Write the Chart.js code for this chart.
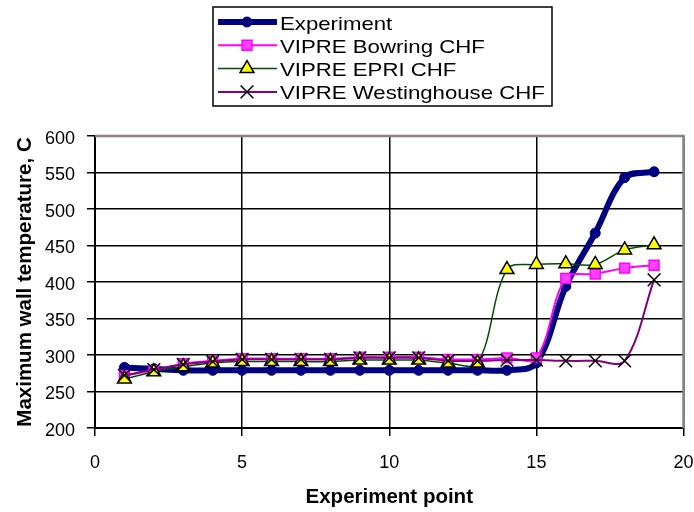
<!DOCTYPE html>
<html>
<head>
<meta charset="utf-8">
<script src="https://cdn.jsdelivr.net/npm/chart.js@4/dist/chart.umd.min.js"></script>
<style>
  html, body { margin: 0; padding: 0; background: #ffffff; }
  #wrap { width: 694px; height: 512px; }
</style>
</head>
<body>
<div id="wrap"><canvas id="c" width="694" height="512"></canvas></div>
<script>
// Experiment points (x) and maximum wall temperature values (C)
const points = [1, 2, 3, 4, 5, 6, 7, 8, 9, 10, 11, 12, 13, 14, 15, 16, 17, 18, 19];
const experiment   = [283, 281, 279, 279, 279, 279, 279, 279, 279, 279, 279, 279, 279, 279, 289, 394, 467, 543, 551];
const bowring      = [272, 279, 288, 292, 295, 295, 295, 295, 297, 297, 297, 294, 294, 296, 296, 405, 411, 419, 423];
const epri         = [267, 277, 284, 289, 291, 291, 291, 291, 293, 293, 293, 289, 289, 417, 424, 425, 424, 444, 451];
const westinghouse = [272, 280, 287, 291, 294, 294, 294, 294, 296, 296, 296, 292, 292, 293, 293, 292, 292, 292, 403];

const seriesNames = ['Experiment', 'VIPRE Bowring CHF', 'VIPRE EPRI CHF', 'VIPRE Westinghouse CHF'];
const xTitle = 'Experiment point';
const yTitle = 'Maximum wall temperature, C';
const xRange = [0, 20, 5];
const yRange = [200, 600, 50];

const FONT = '"Liberation Sans", Arial, sans-serif';

function pairs(ys) {
  return points.map((x, i) => ({ x: x, y: ys[i] }));
}

// Legend drawn inside a framed box above the plot
const boxLegend = {
  id: 'boxLegend',
  afterDraw(chart) {
    const ctx = chart.ctx;
    const L = 213, T = 7, R = 552, B = 106;
    ctx.save();
    ctx.strokeStyle = '#000';
    ctx.lineWidth = 1.5;
    ctx.strokeRect(L, T, R - L, B - T);
    chart.data.datasets.forEach((ds, i) => {
      const ly = 22 + 23.3 * i;
      ctx.strokeStyle = ds.borderColor;
      ctx.lineWidth = ds.borderWidth;
      ctx.lineCap = 'butt';
      ctx.beginPath();
      ctx.moveTo(218, ly);
      ctx.lineTo(277, ly);
      ctx.stroke();
      ctx.fillStyle = ds.pointBackgroundColor;
      ctx.strokeStyle = ds.pointBorderColor;
      ctx.lineWidth = ds.pointBorderWidth;
      Chart.helpers.drawPoint(ctx, {
        pointStyle: ds.pointStyle,
        radius: ds.pointRadius,
        borderWidth: ds.pointBorderWidth,
        rotation: 0
      }, 247, ly);
      ctx.save();
      ctx.translate(280, 29.9 + 23 * i);
      ctx.scale(1.2, 1);
      ctx.fillStyle = '#000';
      ctx.font = '18.5px ' + FONT;
      ctx.textBaseline = 'alphabetic';
      ctx.textAlign = 'left';
      ctx.fillText(ds.label, 0, 0);
      ctx.restore();
    });
    ctx.restore();
  }
};

// Grey frame on the top and right edges of the plot area
const plotFrame = {
  id: 'plotFrame',
  beforeDatasetsDraw(chart) {
    const a = chart.chartArea;
    const ctx = chart.ctx;
    ctx.save();
    ctx.strokeStyle = '#8c8380';
    ctx.lineWidth = 2.5;
    ctx.beginPath();
    ctx.moveTo(a.left, a.top);
    ctx.lineTo(a.right, a.top);
    ctx.lineTo(a.right, a.bottom);
    ctx.stroke();
    ctx.restore();
  }
};

const whiteBg = {
  id: 'whiteBg',
  beforeDraw(chart) {
    const ctx = chart.ctx;
    ctx.save();
    ctx.fillStyle = '#fff';
    ctx.fillRect(0, 0, chart.width, chart.height);
    ctx.restore();
  }
};

new Chart(document.getElementById('c'), {
  type: 'line',
  data: {
    datasets: [
      {
        label: seriesNames[0],
        data: pairs(experiment),
        borderColor: '#000080',
        borderWidth: 6,
        pointStyle: 'circle',
        pointRadius: 5,
        pointBackgroundColor: '#000080',
        pointBorderColor: '#000080',
        pointBorderWidth: 1,
        tension: 0.35,
        order: 3
      },
      {
        label: seriesNames[1],
        data: pairs(bowring),
        borderColor: '#ff00ff',
        borderWidth: 2,
        pointStyle: 'rect',
        pointRadius: 7,
        pointBackgroundColor: '#ff40ff',
        pointBorderColor: '#ff00ff',
        pointBorderWidth: 1.5,
        tension: 0.35,
        order: 2
      },
      {
        label: seriesNames[2],
        data: pairs(epri),
        borderColor: '#004d00',
        borderWidth: 1.5,
        pointStyle: 'triangle',
        pointRadius: 8,
        pointBackgroundColor: '#ffff00',
        pointBorderColor: '#000000',
        pointBorderWidth: 1.5,
        tension: 0.35,
        order: 1
      },
      {
        label: seriesNames[3],
        data: pairs(westinghouse),
        borderColor: '#800080',
        borderWidth: 2,
        pointStyle: 'crossRot',
        pointRadius: 9,
        pointBackgroundColor: '#000000',
        pointBorderColor: '#000000',
        pointBorderWidth: 1.5,
        tension: 0.35,
        order: 0
      }
    ]
  },
  options: {
    responsive: false,
    animation: false,
    devicePixelRatio: 1,
    layout: { padding: { top: 136, right: 10, left: 0, bottom: 0 } },
    plugins: {
      legend: { display: false },
      tooltip: { enabled: false }
    },
    scales: {
      x: {
        type: 'linear',
        min: xRange[0],
        max: xRange[1],
        ticks: { stepSize: xRange[2], color: '#000', font: { family: FONT, size: 18 }, padding: 16, maxRotation: 0 },
        grid: { color: '#000', lineWidth: 1.5, tickLength: 8, drawTicks: true },
        border: { color: '#000', width: 2 },
        title: {
          display: true, text: xTitle, color: '#000',
          font: { family: FONT, size: 20.5, weight: 'bold' },
          padding: { top: 0, bottom: 2 }
        },
        afterFit(s) { s.height = 84; s.paddingLeft = 0; s.paddingRight = 0; }
      },
      y: {
        type: 'linear',
        min: yRange[0],
        max: yRange[1],
        ticks: { stepSize: yRange[2], color: '#000', font: { family: FONT, size: 18 }, padding: 12, labelOffset: 3 },
        grid: { color: '#000', lineWidth: 1.5, tickLength: 8, drawTicks: true },
        border: { color: '#000', width: 2 },
        title: {
          display: true, text: yTitle, color: '#000',
          font: { family: FONT, size: 20.5, weight: 'bold' },
          padding: { top: 12.7, bottom: 0 }
        },
        afterFit(s) { s.width = 95; s.paddingTop = 0; s.paddingBottom = 0; }
      }
    }
  },
  plugins: [whiteBg, plotFrame, boxLegend]
});
</script>
</body>
</html>
